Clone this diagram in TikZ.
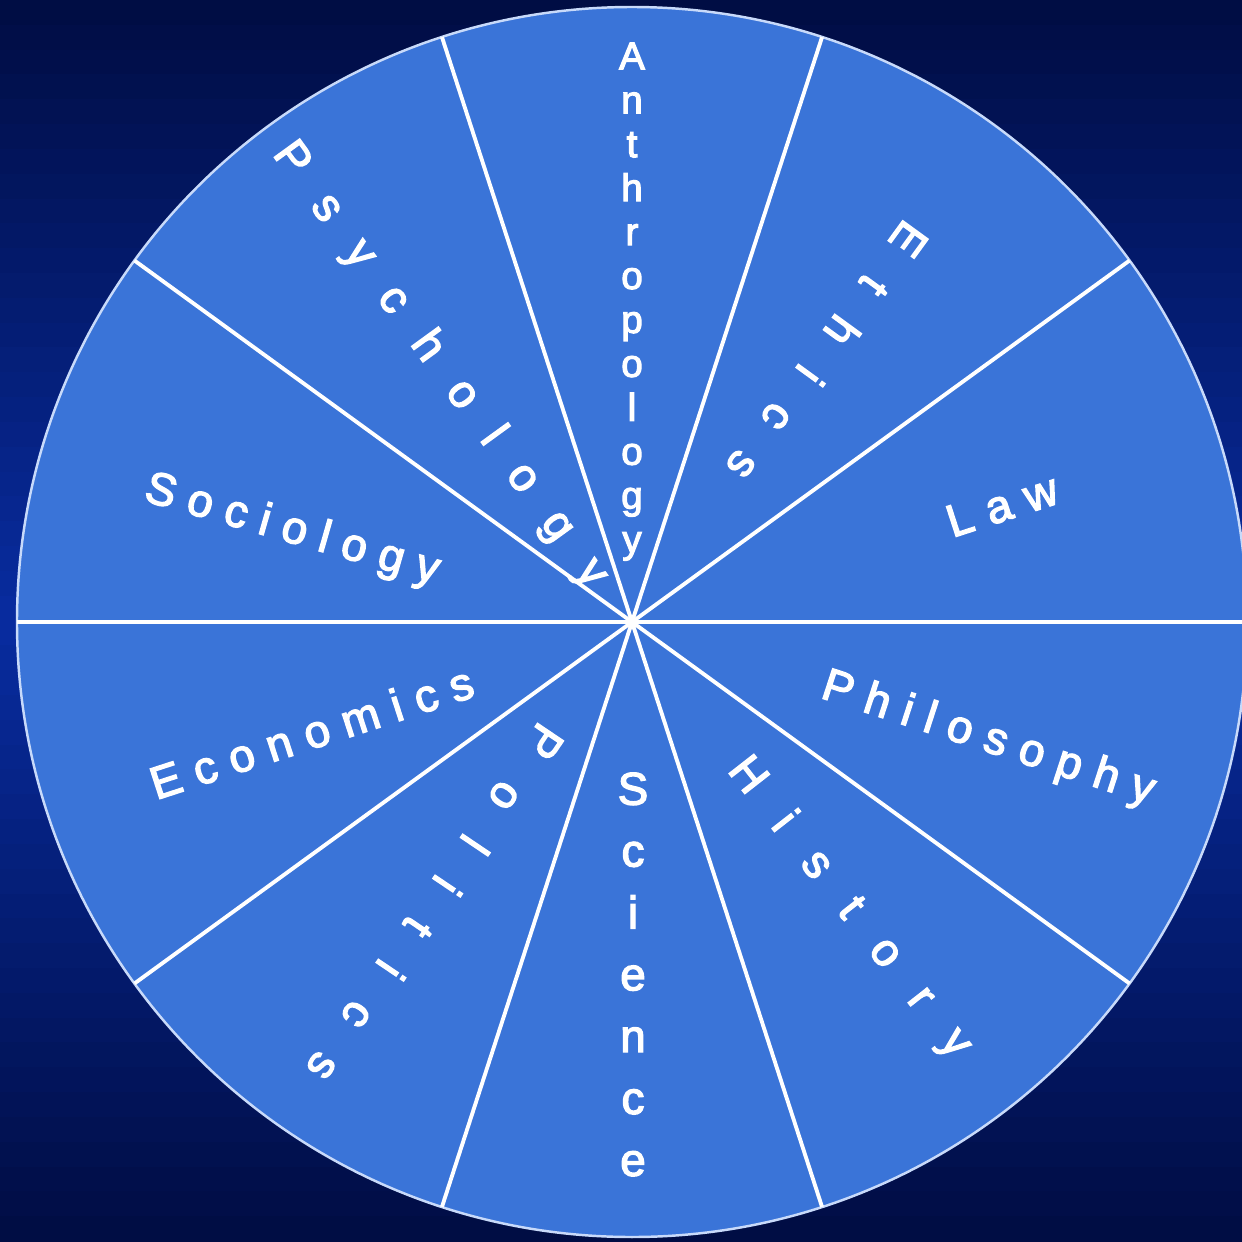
\documentclass[tikz,border=0pt]{standalone}
\usepackage{fontspec}
\setmainfont{Liberation Sans}
\newfontfamily\wheelfont[FakeBold=3]{Liberation Sans}

\definecolor{bgdark}{RGB}{0,12,66}
\definecolor{bgmid}{RGB}{8,44,160}
\definecolor{wheelblue}{RGB}{58,116,216}
\definecolor{rimline}{RGB}{200,218,250}

% put a gap between the letters of a word
\makeatletter
\newcommand\spread[2]{\def\sp@gap{}\@tfor\sp@ch:=#2\do{\sp@gap\sp@ch\def\sp@gap{\hspace{#1}}}}
\makeatother

\tikzset{
  word/.style={text=white, inner sep=0pt, font=\wheelfont\fontsize{13}{15}\selectfont},
  stack/.style={text=white, inner sep=0pt, align=center, anchor=north}
}

\begin{document}
\begin{tikzpicture}
\useasboundingbox (-6.32,-6.19) rectangle (6.10,6.22);
\clip (-6.32,-6.19) rectangle (6.10,6.22);

% background, dark at top and bottom, brighter in the middle
\foreach \i in {0,...,49}{
  \pgfmathsetmacro\p{100-4*abs(\i-24.5)}
  \fill[bgmid!\p!bgdark] (-6.32,{6.22-0.2482*\i}) rectangle (6.10,{6.21-0.2482*(\i+1)});
}

% the wheel
\coordinate (o) at (0,0);
\filldraw[fill=wheelblue, draw=rimline, line width=0.7pt] (o) circle (6.15cm);

% ten spokes
\foreach \a in {0,36,...,324}
  \draw[white, line width=1.1pt] (o) -- (\a:6.15);

% words read along the spokes
\node[word, rotate=18] (law) at (17.5:3.88) {\spread{0.33em}{Law}};
\node[word, rotate=-126] (ethics) at (54.1:3.34) {\spread{0.8em}{Ethics}};
\node[word, rotate=-54] (psychology) at (126.8:3.21) {\spread{0.74em}{Psychology}};
\node[word, rotate=-16] (sociology) at (165:3.52) {\spread{0.29em}{Sociology}};
\node[word, rotate=18] (economics) at (199:3.39) {\spread{0.31em}{Economics}};
\node[word, rotate=-124] (politics) at (235.1:3.43) {\spread{0.86em}{Politics}};
\node[word, rotate=-52] (history) at (-52.8:3.59) {\spread{0.82em}{History}};
\node[word, rotate=-18] (philosophy) at (-18.3:3.75) {\spread{0.3em}{Philosophy}};

% stacked words
\node[stack, font=\wheelfont\fontsize{11}{12.5}\selectfont] (anthropology) at (0,5.80)
  {A\\n\\t\\h\\r\\o\\p\\o\\l\\o\\g\\y};
\node[stack, font=\wheelfont\fontsize{13}{17.6}\selectfont] (science) at (0.01,-1.50)
  {S\\c\\i\\e\\n\\c\\e};
\end{tikzpicture}
\end{document}
